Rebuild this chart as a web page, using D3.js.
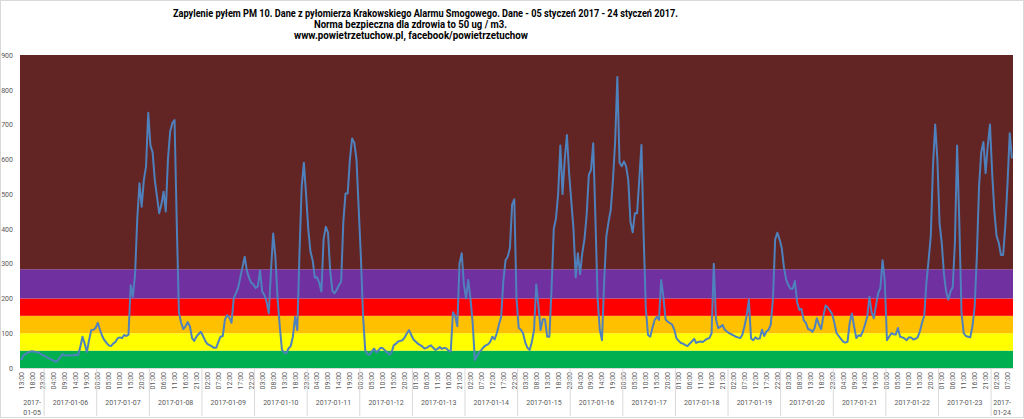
<!DOCTYPE html>
<html>
<head>
<meta charset="utf-8">
<script src="https://cdn.jsdelivr.net/npm/d3@7"></script>
<style>
    body { margin: 0; background: #fff; }
    text { font-family: Roboto, "Open Sans", sans-serif; }
</style>
</head>
<body>
<div id="chart"></div>
<script>
// datos
const titleLines = [
    "Zapylenie pyłem PM 10. Dane z pyłomierza Krakowskiego Alarmu Smogowego. Dane - 05 styczeń 2017 - 24 styczeń 2017.",
    "Norma bezpieczna dla zdrowia to 50 ug / m3.",
    "www.powietrzetuchow.pl, facebook/powietrzetuchow"
]
const days = ["2017-01-05", "2017-01-06", "2017-01-07", "2017-01-08", "2017-01-09", "2017-01-10", "2017-01-11",
    "2017-01-12", "2017-01-13", "2017-01-14", "2017-01-15", "2017-01-16", "2017-01-17", "2017-01-18",
    "2017-01-19", "2017-01-20", "2017-01-21", "2017-01-22", "2017-01-23", "2017-01-24"]
const firstHour = 13
const yTicks = [0, 100, 200, 300, 400, 500, 600, 700, 800, 900]
const bandLimits = [0, 50, 100, 150, 200, 284, 900]
const bandColors = ["#00b050", "#ffff00", "#ffc000", "#ff0000", "#7030a0", "#632523"]
const pm10 = [
    23, 35, 40, 44, 47, 48, 47, 46, 44, 40,
    37, 34, 30, 27, 24, 20, 18, 24, 32, 40,
    36, 37, 35, 37, 36, 38, 37, 60, 90, 70,
    46, 80, 109, 110, 115, 130, 110, 92, 80, 72,
    65, 63, 70, 75, 85, 88, 86, 95, 92, 96,
    238, 205, 270, 430, 531, 464, 540, 580, 734, 640,
    620, 540, 493, 445, 470, 507, 450, 600, 680, 704,
    713, 420, 160, 130, 112, 120, 132, 120, 86, 78,
    90, 98, 104, 92, 78, 69, 66, 62, 58, 58,
    75, 90, 92, 140, 152, 145, 130, 200, 215, 230,
    260, 290, 320, 280, 259, 245, 240, 230, 235, 280,
    220, 210, 190, 157, 280, 387, 320, 200, 120, 52,
    45, 42, 56, 63, 90, 147, 109, 330, 520, 590,
    500, 400, 335, 310, 260, 261, 245, 220, 370, 406,
    390, 280, 222, 215, 225, 238, 248, 420, 502, 502,
    600, 660, 648, 600, 460, 320, 150, 50, 40, 38,
    48, 56, 45, 50, 58, 57, 50, 45, 38, 45,
    65, 70, 76, 78, 80, 88, 100, 109, 95, 82,
    76, 70, 66, 62, 56, 58, 62, 65, 58, 52,
    55, 60, 55, 58, 56, 50, 47, 160, 150, 120,
    300, 330, 240, 200, 253, 200, 130, 23, 35, 45,
    52, 60, 65, 68, 75, 90, 82, 100, 125, 147,
    250, 310, 320, 345, 470, 485, 200, 115, 110, 100,
    73, 58, 52, 75, 109, 240, 180, 109, 140, 140,
    90, 90, 230, 400, 430, 500, 640, 500, 600, 670,
    560, 480, 400, 260, 330, 270, 330, 370, 440, 555,
    570, 646, 430, 200, 110, 80, 250, 380, 420, 455,
    540, 650, 837, 591, 580, 594, 580, 540, 420, 390,
    445, 445, 540, 641, 380, 170, 95, 90, 115, 138,
    147, 138, 253, 205, 140, 133, 129, 125, 110, 85,
    78, 72, 70, 66, 63, 70, 76, 84, 72, 75,
    76, 75, 80, 84, 86, 100, 300, 140, 115, 118,
    124, 110, 105, 100, 97, 94, 90, 88, 86, 95,
    120, 150, 196, 85, 80, 88, 84, 85, 110, 92,
    105, 110, 125, 200, 370, 389, 370, 345, 290, 255,
    238, 228, 228, 250, 190, 167, 170, 138, 130, 112,
    110, 104, 115, 143, 125, 112, 150, 180, 174, 165,
    155, 130, 100, 92, 84, 76, 73, 75, 130, 157,
    120, 86, 94, 92, 105, 125, 147, 205, 160, 143,
    180, 215, 230, 310, 250, 80, 90, 100, 97, 96,
    115, 90, 88, 85, 80, 88, 88, 82, 84, 88,
    105, 130, 150, 245, 310, 380, 580, 700, 600, 416,
    360, 270, 220, 196, 220, 232, 360, 640, 420, 160,
    100, 92, 90, 88, 120, 175, 320, 520, 620, 650,
    560, 640, 700, 560, 450, 380, 360, 325, 325, 410,
    530, 675, 603
]

// CHART START
const width = 1024
const height = 419
const margin = {
    top: 55,
    bottom: 51,
    right: 11,
    left: 20
}

const svg = d3.select("div#chart").append("svg").attr("width", width).attr("height", height)

// borde del gráfico
svg.append("rect").attr("x", 0.5).attr("y", 0.5).attr("width", width - 1).attr("height", 417)
    .attr("fill", "none").attr("stroke", "#d9d9d9")

const titleGroup = svg.append("g").attr("class", "titleGroup")
const bandGroup = svg.append("g").attr("class", "bandGroup")
const elementGroup = svg.append("g").attr("class", "elementGroup")
const axisGroup = svg.append("g").attr("class", "axisGroup")
const xAxisGroup = axisGroup.append("g").attr("class", "xAxisGroup").attr("transform", `translate(0, ${height - margin.bottom})`)
const yAxisGroup = axisGroup.append("g").attr("class", "yAxisGroup").attr("transform", `translate(${margin.left}, 0)`)

const x = d3.scaleBand().domain(d3.range(pm10.length)).range([margin.left, width - margin.right]).padding(0)
const y = d3.scaleLinear().domain([0, 900]).range([height - margin.bottom, margin.top])

// título
const titlePos = [{x: 425.5, y: 16.5, w: 505}, {x: 410.5, y: 27.5, w: 193}, {x: 411, y: 38.5, w: 234}]
titleGroup.selectAll("text").data(titleLines).join("text")
    .attr("x", (d, i) => titlePos[i].x)
    .attr("y", (d, i) => titlePos[i].y)
    .attr("text-anchor", "middle")
    .attr("textLength", (d, i) => titlePos[i].w)
    .attr("lengthAdjust", "spacingAndGlyphs")
    .style("font-size", "10.5px")
    .style("font-weight", "bold")
    .attr("fill", "#000")
    .text(d => d)

// bandas de color
const bands = bandColors.map((c, i) => ({from: bandLimits[i], to: bandLimits[i + 1], color: c}))
bandGroup.selectAll("rect").data(bands).join("rect")
    .attr("x", x.range()[0])
    .attr("width", x.range()[1] - x.range()[0])
    .attr("y", d => y(d.to))
    .attr("height", d => y(d.from) - y(d.to))
    .attr("fill", d => d.color)

// línea
const line = d3.line()
    .x((d, i) => x(i) + x.bandwidth() / 2)
    .y(d => y(d))
elementGroup.append("path").datum(pm10)
    .attr("d", line)
    .attr("fill", "none")
    .attr("stroke", "#4f81bd")
    .attr("stroke-width", 2)
    .attr("stroke-linejoin", "round")

// eje y
const yAxis = d3.axisLeft(y).tickValues(yTicks).tickSize(0).tickPadding(7)
yAxisGroup.call(yAxis)
yAxisGroup.select(".domain").remove()
yAxisGroup.selectAll("text").style("font-size", "7px").attr("fill", "#595959")

// eje x: horas
const hourLabel = i => String((firstHour + i) % 24).padStart(2, "0") + ":00"
const xAxis = d3.axisBottom(x)
    .tickValues(d3.range(0, pm10.length, 5))
    .tickSize(0)
    .tickFormat(hourLabel)
xAxisGroup.call(xAxis)
xAxisGroup.select(".domain").attr("stroke", "#d9d9d9")
xAxisGroup.selectAll(".tick text")
    .attr("transform", "rotate(-90)")
    .attr("x", -4)
    .attr("y", 0)
    .attr("dy", "0.35em")
    .attr("text-anchor", "end")
    .style("font-size", "7px")
    .attr("fill", "#595959")

// eje x: días
const dayGroups = days.map((d, k) => {
    const start = k === 0 ? 0 : (24 - firstHour) + (k - 1) * 24
    const end = Math.min((24 - firstHour) + k * 24, pm10.length)
    return {day: d, start: start, end: end}
})
const xPos = i => i < pm10.length ? x(i) : x.range()[1]
const dayG = axisGroup.append("g").attr("class", "dayGroup")
dayG.selectAll("line").data(dayGroups.slice(1)).join("line")
    .attr("x1", d => xPos(d.start)).attr("x2", d => xPos(d.start))
    .attr("y1", height - margin.bottom).attr("y2", 416)
    .attr("stroke", "#d9d9d9")
const dayText = dayG.selectAll("text").data(dayGroups).join("text")
    .attr("x", d => (xPos(d.start) + xPos(d.end)) / 2)
    .attr("y", 405)
    .attr("text-anchor", "middle")
    .style("font-size", "7px")
    .attr("fill", "#595959")
dayText.each(function (d) {
    const t = d3.select(this)
    if (d.end - d.start < 15) {
        t.append("tspan").attr("x", t.attr("x")).text(d.day.slice(0, 5))
        t.append("tspan").attr("x", t.attr("x")).attr("dy", 10).text(d.day.slice(5))
    } else {
        t.text(d.day)
    }
})
// CHART END
</script>
</body>
</html>
